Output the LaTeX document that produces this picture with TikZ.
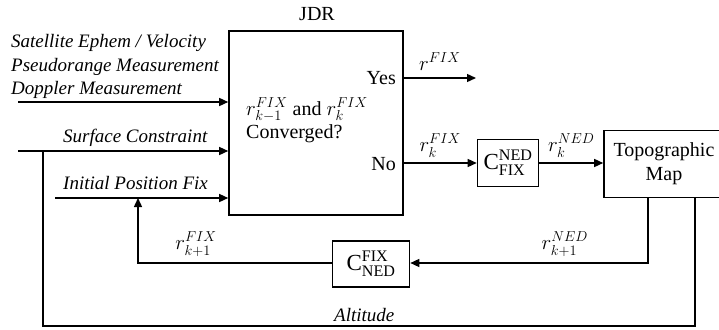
\documentclass[tikz,border=0pt]{standalone}
\usepackage{amsmath}
\usepackage{fontspec}
\setmainfont{Liberation Serif}
\usetikzlibrary{arrows.meta,calc}
\begin{document}
\begin{tikzpicture}[x=1pt,y=-1pt,
  every node/.style={font=\rmfamily\fontsize{20}{24}\selectfont, inner sep=0pt},
  blk/.style={draw, line width=1.6pt},
  ln/.style={line width=1.4pt},
  arr/.style={line width=1.4pt, -{Triangle[length=9pt,width=8pt]}},
  lbl/.style={font=\rmfamily\fontsize{19}{23}\selectfont\itshape, anchor=base west},
  mth/.style={font=\rmfamily\fontsize{22}{24}\selectfont},
  cbx/.style={draw, line width=1.6pt, font=\rmfamily\fontsize{23}{25}\selectfont},
  ]
\useasboundingbox (0,0) rectangle (719,329);
% blocks
\node[blk, minimum width=174pt, minimum height=184pt] (jdr) at (316,123) {};
\node (jdrt) at (317,14) {JDR};
\node[anchor=base west, font=\rmfamily\fontsize{20}{24}\selectfont] (conv1) at (246,115) {{\fontsize{22}{24}\selectfont$r^{FIX}_{k-1}$} and {\fontsize{22}{24}\selectfont$r^{FIX}_{k}$}};
\node[anchor=base west] (conv2) at (246,138) {Converged?};
\node[anchor=east] (yes) at (396,78) {Yes};
\node[anchor=east] (no) at (396,164) {No};
\node[cbx, minimum width=61pt, minimum height=47pt] (c1) at (508,163) {C$^{\text{NED}}_{\text{FIX}}$};
\node[blk, minimum width=120pt, minimum height=67pt, align=center] (map) at (664,164) {Topographic\\Map};
\node[cbx, minimum width=77pt, minimum height=46pt] (c2) at (371,264) {C$^{\text{FIX}}_{\text{NED}}$};
% input labels
\node[lbl] (t1) at (11,48) {Satellite Ephem / Velocity};
\node[lbl] (t2) at (11,71) {Pseudorange Measurement};
\node[lbl] (t3) at (11,94) {Doppler Measurement};
\node[lbl] (t4) at (63,142) {Surface Constraint};
\node[lbl] (t5) at (63,189) {Initial Position Fix};
\node[lbl] (t6) at (334,321) {Altitude};
% coordinates
\coordinate (i1) at (18,102);
\coordinate (i2) at (18,151);
\coordinate (i3) at (55,198);
\coordinate (ya) at (476,78);
\coordinate (j1) at (43,151);
\coordinate (j2) at (138,198);
% input arrows
\draw[arr] (i1) -- (i1 -| jdr.west);
\draw[arr] (i2) -- (i2 -| jdr.west);
\draw[arr] (i3) -- (i3 -| jdr.west);
% outputs
\draw[arr] (jdr.east |- ya) -- (ya) node[mth, midway, above=7pt] (rfix) {$r^{FIX}$};
\draw[arr] (jdr.east |- c1.west) -- (c1.west) node[mth, midway, above=5pt] (rk) {$r^{FIX}_{k}$};
\draw[arr] (c1.east) -- (map.west |- c1.east) node[mth, midway, above=5pt] (rkn) {$r^{NED}_{k}$};
% feedback
\draw[arr] (648,0 |- map.south) -- (648,263) -- (c2.east |- 0,263) node[mth, pos=0.35, above=6pt] (rk1n) {$r^{NED}_{k+1}$};
\draw[arr] (c2.west |- 0,263) -- (j2 |- 0,263) node[mth, pos=0.7, above=6pt] (rk1f) {$r^{FIX}_{k+1}$} -- (j2);
% altitude loop
\draw[ln] (j1) -- (43,326) -- (695,326) -- (695,0 |- map.south);
\end{tikzpicture}
\end{document}
